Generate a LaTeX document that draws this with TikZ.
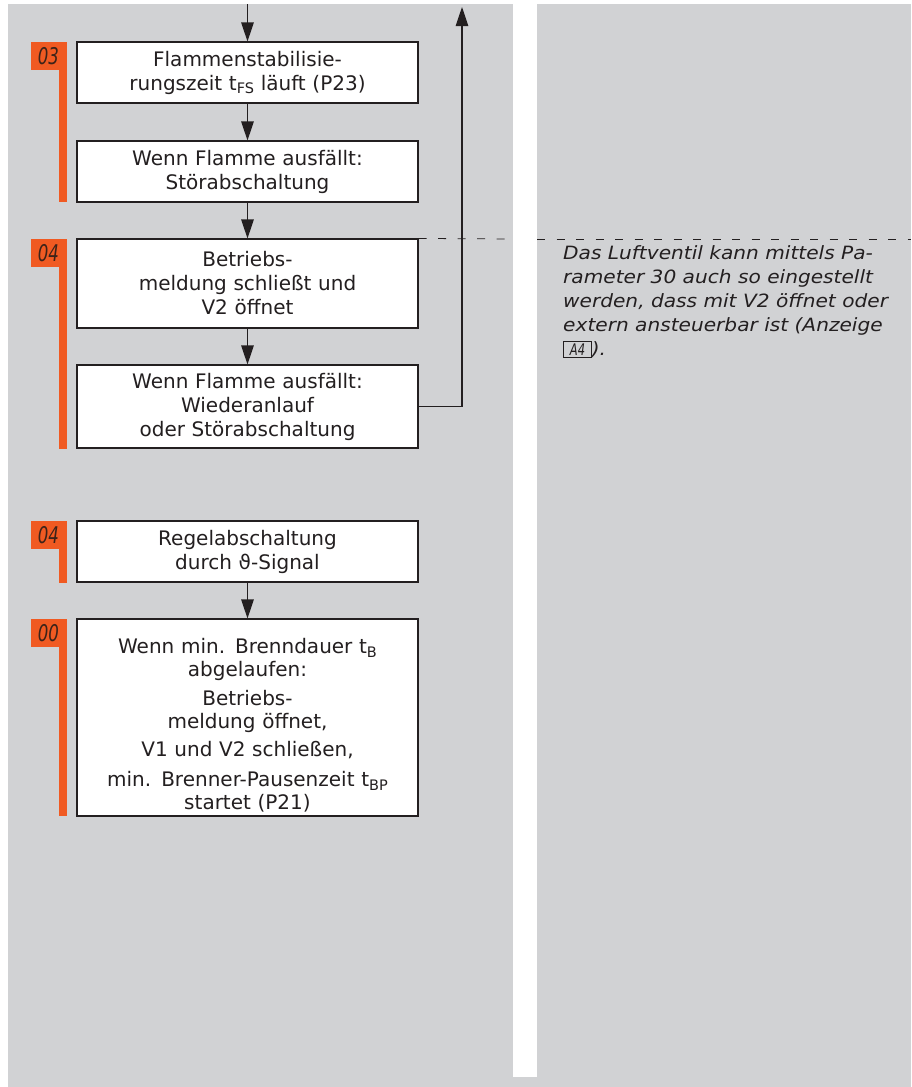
\documentclass[tikz,border=0pt]{standalone}
\usepackage{fontspec}
\setmainfont{DejaVu Sans}
\newfontfamily\notefont[FakeStretch=1.1]{DejaVu Sans}
\newfontfamily\segfont[FakeStretch=0.72]{DejaVu Sans}
\usetikzlibrary{arrows.meta}
\definecolor{bggray}{RGB}{209,210,212}
\definecolor{orng}{RGB}{240,90,34}
\definecolor{ink}{RGB}{35,31,32}
\definecolor{segink}{RGB}{60,35,25}
\newcommand\subtxt[1]{\raisebox{-0.35ex}{\fontsize{14.5}{14.5}\selectfont #1}}
\tikzset{
  box/.style={draw=ink, line width=1.1pt, fill=white, text=ink, align=center,
    text width=330pt, inner xsep=5.5pt, inner ysep=0pt,
    font=\fontsize{20}{24}\selectfont},
  arr/.style={draw=ink, line width=1.1pt, -{Triangle[length=19pt,width=12.5pt]}},
  dashline/.style={draw=ink, line width=0.8pt, dash pattern=on 8pt off 11.5pt},
  badge/.style={fill=orng},
  segtext/.style={text=segink, inner sep=0pt, font=\fontsize{23}{23}\segfont\itshape},
  note/.style={text=ink, align=left, inner sep=0pt,
    font=\fontsize{18.3}{24}\notefont\itshape}
}
\begin{document}
\begin{tikzpicture}[x=1pt,y=-1pt]
\useasboundingbox (0,0) rectangle (911,1087);
\fill[white] (0,0) rectangle (911,1087);
\fill[bggray] (8,4) rectangle (911,1087);
\fill[white] (513,0) rectangle (537,1077);

% badges
\fill[badge] (31,42) rectangle (66.5,70);
\fill[badge] (59,70) rectangle (66.5,202);
\node[segtext] (s1) at (48.5,56) {03};
\fill[badge] (31,239) rectangle (66.5,267);
\fill[badge] (59,267) rectangle (66.5,449);
\node[segtext] (s2) at (48.5,253) {04};
\fill[badge] (31,521) rectangle (66.5,549);
\fill[badge] (59,549) rectangle (66.5,583);
\node[segtext] (s3) at (48.5,535) {04};
\fill[badge] (31,619) rectangle (66.5,647);
\fill[badge] (59,647) rectangle (66.5,816);
\node[segtext] (s4) at (48.5,633) {00};

% boxes
\node[box, minimum height=61pt] (b1) at (247.5,72.5)
  {Flammenstabilisie-\\rungszeit t\subtxt{FS} läuft (P23)};
\node[box, minimum height=61pt] (b2) at (247.5,171.5)
  {Wenn Flamme ausfällt:\\Störabschaltung};
\node[box, minimum height=89pt] (b3) at (247.5,283.5)
  {Betriebs-\\meldung schließt und\\V2 öffnet};
\node[box, minimum height=83pt] (b4) at (247.5,406.5)
  {Wenn Flamme ausfällt:\\Wiederanlauf\\oder Störabschaltung};
\node[box, minimum height=61pt] (b5) at (247.5,551.5)
  {Regelabschaltung\\durch ϑ-Signal};
\node[box, minimum height=197pt, font=\fontsize{20}{23}\selectfont] (b6) at (247.5,717.5)
  {\rule{0pt}{31pt}Wenn min. Brenndauer t\subtxt{B}\\abgelaufen:\\[6pt]
   Betriebs-\\meldung öffnet,\\[5pt]
   V1 und V2 schließen,\\[7pt]
   min. Brenner-Pausenzeit t\subtxt{BP}\\startet (P21)};

% connectors
\coordinate (top) at (247.5,4);
\coordinate (ret) at (462,7);
\draw[arr] (top) -- (b1.north);
\draw[arr] (b1.south) -- (b2.north);
\draw[arr] (b2.south) -- (b3.north);
\draw[arr] (b3.south) -- (b4.north);
\draw[arr] (b5.south) -- (b6.north);
\draw[arr] (b4.east) -| (ret);

% dashed separator
\coordinate (d1) at (513,239);
\coordinate (d2) at (537,239);
\coordinate (d3) at (911,239);
\draw[dashline] (b3.north east) -- (d1);
\draw[dashline] (d2) -- (d3);

% note
\node[note, anchor=north west] (note) at (563,245)
  {Das Luftventil kann mittels Pa-\\rameter 30 auch so eingestellt\\werden, dass mit V2 öffnet oder\\extern ansteuerbar ist (Anzeige\\{\setlength\fboxsep{1.5pt}\setlength\fboxrule{0.8pt}\fbox{\makebox[24pt]{\fontsize{16}{16}\segfont\itshape A4}}}).};
\end{tikzpicture}
\end{document}
